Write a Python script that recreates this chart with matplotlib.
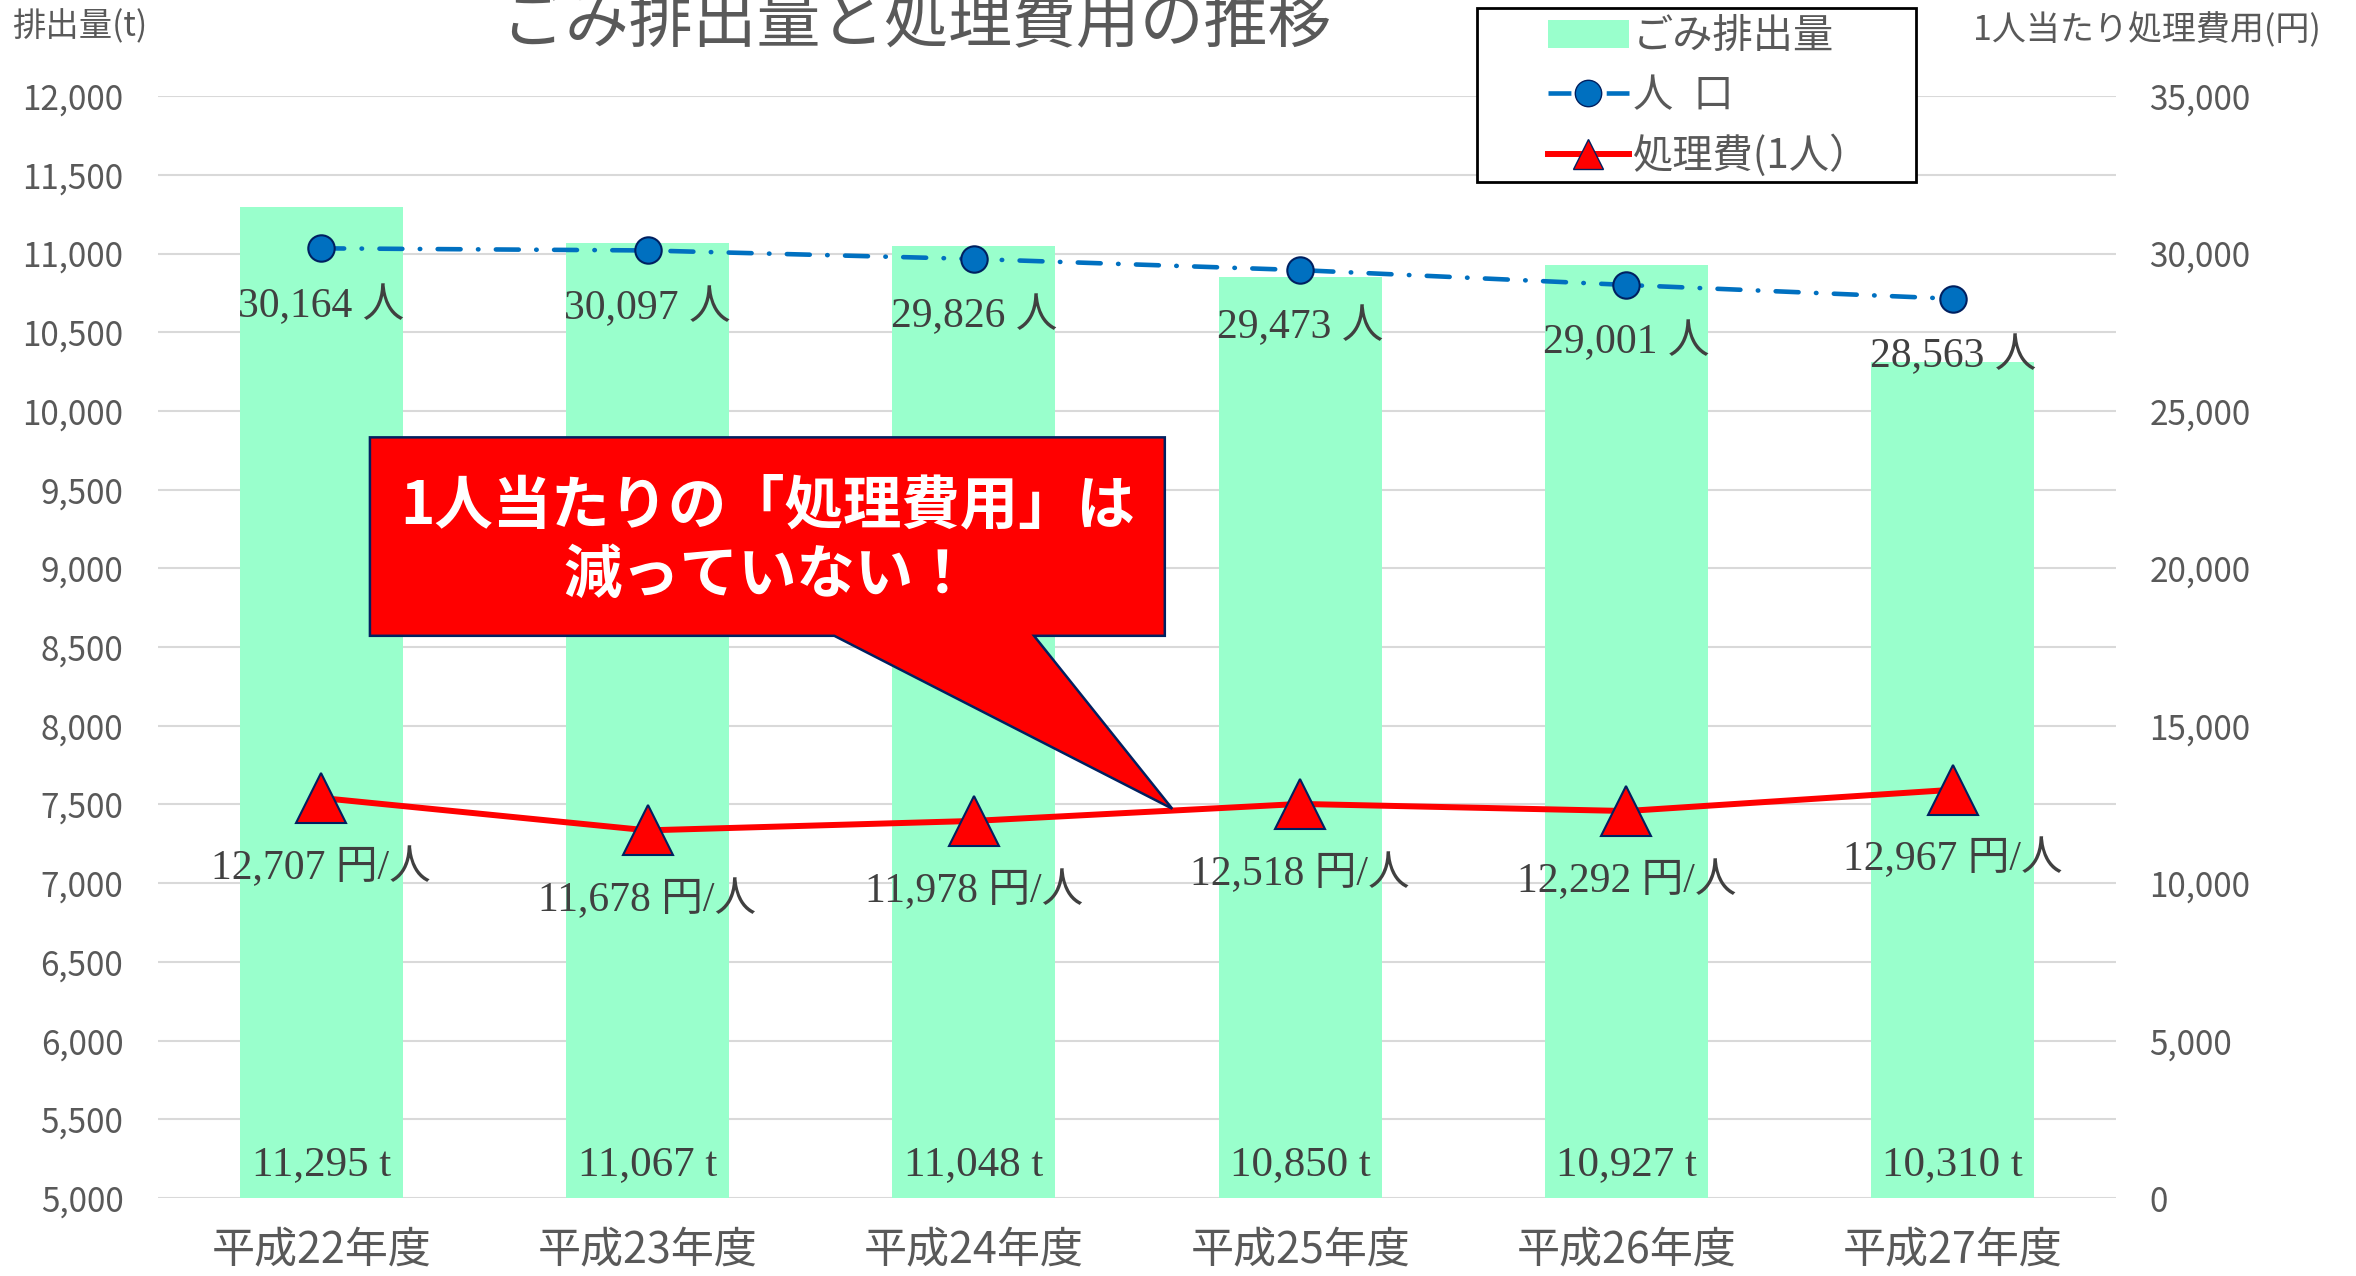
import matplotlib
matplotlib.use("Agg")
import matplotlib.pyplot as plt
from matplotlib.patches import Polygon, Rectangle
from matplotlib.lines import Line2D
from matplotlib.patches import Patch
import numpy as np

plt.rcParams['font.family'] = ['Noto Sans CJK JP', 'DejaVu Sans']

# データ
years = ["平成22年度", "平成23年度", "平成24年度", "平成25年度", "平成26年度", "平成27年度"]
garbage_t = [11295, 11067, 11048, 10850, 10927, 10310]
population = [30164, 30097, 29826, 29473, 29001, 28563]
cost_per_person = [12707, 11678, 11978, 12518, 12292, 12967]

left_ticks = list(range(5000, 12001, 500))
right_ticks = list(range(0, 35001, 5000))

GRAY = "#595959"
LABEL = "#404040"
BAR = "#99FFCC"
BLUE = "#0070C0"
RED = "#FF0000"
NAVY = "#002060"
SERIF = ['Liberation Serif', 'Noto Sans CJK JP']
POP_DASH = (5.0, 3.8, 0.1, 3.8)

fig = plt.figure(figsize=(23.56, 12.76), dpi=100)
ax = fig.add_axes([0.0671, 0.0611, 0.831, 0.8636])
x = np.arange(len(years))

# 棒グラフ（ごみ排出量）
ax.bar(x, garbage_t, width=0.5, color=BAR, zorder=2)
ax.set_ylim(5000, 12000)
ax.set_xlim(-0.5, len(years) - 0.5)
ax.set_yticks(left_ticks)
ax.set_yticklabels([f"{v:,}" for v in left_ticks])
ax.set_xticks(x)
ax.set_xticklabels(years)
ax.grid(axis='y', color="#D9D9D9", linewidth=1.5, zorder=0)
ax.set_axisbelow(True)
ax.tick_params(axis='y', length=0, pad=25, labelsize=24, labelcolor=GRAY)
ax.tick_params(axis='x', length=0, pad=22, labelsize=31, labelcolor=GRAY)
for s in ax.spines.values():
    s.set_visible(False)

for i, v in enumerate(garbage_t):
    ax.annotate(f"{v:,} t", xy=(i, 5000), xytext=(0, 24), textcoords='offset points',
                ha='center', va='center', fontsize=31, color=LABEL, family=SERIF, zorder=3)

# 折れ線（第2軸）
ax2 = ax.twinx()
ax2.set_ylim(0, 35000)
ax2.set_yticks(right_ticks)
ax2.set_yticklabels([f"{v:,}" for v in right_ticks])
ax2.tick_params(axis='y', length=0, pad=24, labelsize=24, labelcolor=GRAY)
for s in ax2.spines.values():
    s.set_visible(False)

pop_line, = ax2.plot(x, population, color=BLUE, linewidth=3.3, marker='o', markersize=19,
                     markerfacecolor=BLUE, markeredgecolor=NAVY, markeredgewidth=1.5,
                     dash_capstyle='round', zorder=4)
pop_line.set_dashes(POP_DASH)

cost_line, = ax2.plot(x, cost_per_person, color=RED, linewidth=4.3, marker='^', markersize=36,
                      markerfacecolor=RED, markeredgecolor=NAVY, markeredgewidth=1.5, zorder=4)

for i, v in enumerate(population):
    ax2.annotate(f"{v:,} 人", xy=(i, v), xytext=(0, -41), textcoords='offset points',
                 ha='center', va='center', fontsize=30, color=LABEL, family=SERIF, zorder=5)
for i, v in enumerate(cost_per_person):
    ax2.annotate(f"{v:,} 円/人", xy=(i, v), xytext=(0, -50), textcoords='offset points',
                 ha='center', va='center', fontsize=30, color=LABEL, family=SERIF, zorder=5)

# 吹き出し
L, R, B, T = 0.1082, 0.5142, 0.5102, 0.6903
callout = Polygon([(L, T), (R, T), (R, B), (0.4474, B), (0.518, 0.3533), (0.3454, B), (L, B)],
                  closed=True, transform=ax2.transAxes, facecolor=RED, edgecolor=NAVY,
                  linewidth=1.8, zorder=6)
ax2.add_patch(callout)
ax2.text(0.3116, 0.6276, "1人当たりの「処理費用」は", transform=ax2.transAxes, ha='center',
         va='center', fontsize=42, fontweight='bold', color='white', zorder=7)
ax2.text(0.3116, 0.5648, "減っていない！", transform=ax2.transAxes, ha='center',
         va='center', fontsize=42, fontweight='bold', color='white', zorder=7)

# タイトル・軸ラベル
fig.text(0.389, 0.982, "ごみ排出量と処理費用の推移", ha='center', va='center',
         fontsize=46, color=GRAY)
fig.text(0.005, 0.979, "排出量(t)", ha='left', va='center', fontsize=24, color=GRAY)
fig.text(0.985, 0.976, "1人当たり処理費用(円)", ha='right', va='center', fontsize=24.5, color=GRAY)

# 凡例
fig.patches.append(Rectangle((1477 / 2356, 1 - 182 / 1276), 439 / 2356, 174 / 1276,
                             transform=fig.transFigure, facecolor='white', edgecolor='black',
                             linewidth=2, zorder=10))
handles = [Patch(facecolor=BAR),
           Line2D([], [], color=BLUE, linewidth=3.3, marker='o', markersize=19,
                  markerfacecolor=BLUE, markeredgecolor=NAVY, dashes=POP_DASH),
           Line2D([], [], color=RED, linewidth=4.3, marker='^', markersize=22,
                  markerfacecolor=RED, markeredgecolor=NAVY)]
leg = fig.legend(handles, ["ごみ排出量", "人\u2002口", "処理費(1人）"], loc='upper left',
                 bbox_to_anchor=(1540 / 2356, 1 - 8 / 1276), frameon=False, fontsize=29,
                 handlelength=2.0, handletextpad=0.1, labelspacing=0.45, borderaxespad=0,
                 borderpad=0.2)
leg.set_zorder(11)
for t in leg.get_texts():
    t.set_color(GRAY)

fig.savefig("out.png", dpi=100)
